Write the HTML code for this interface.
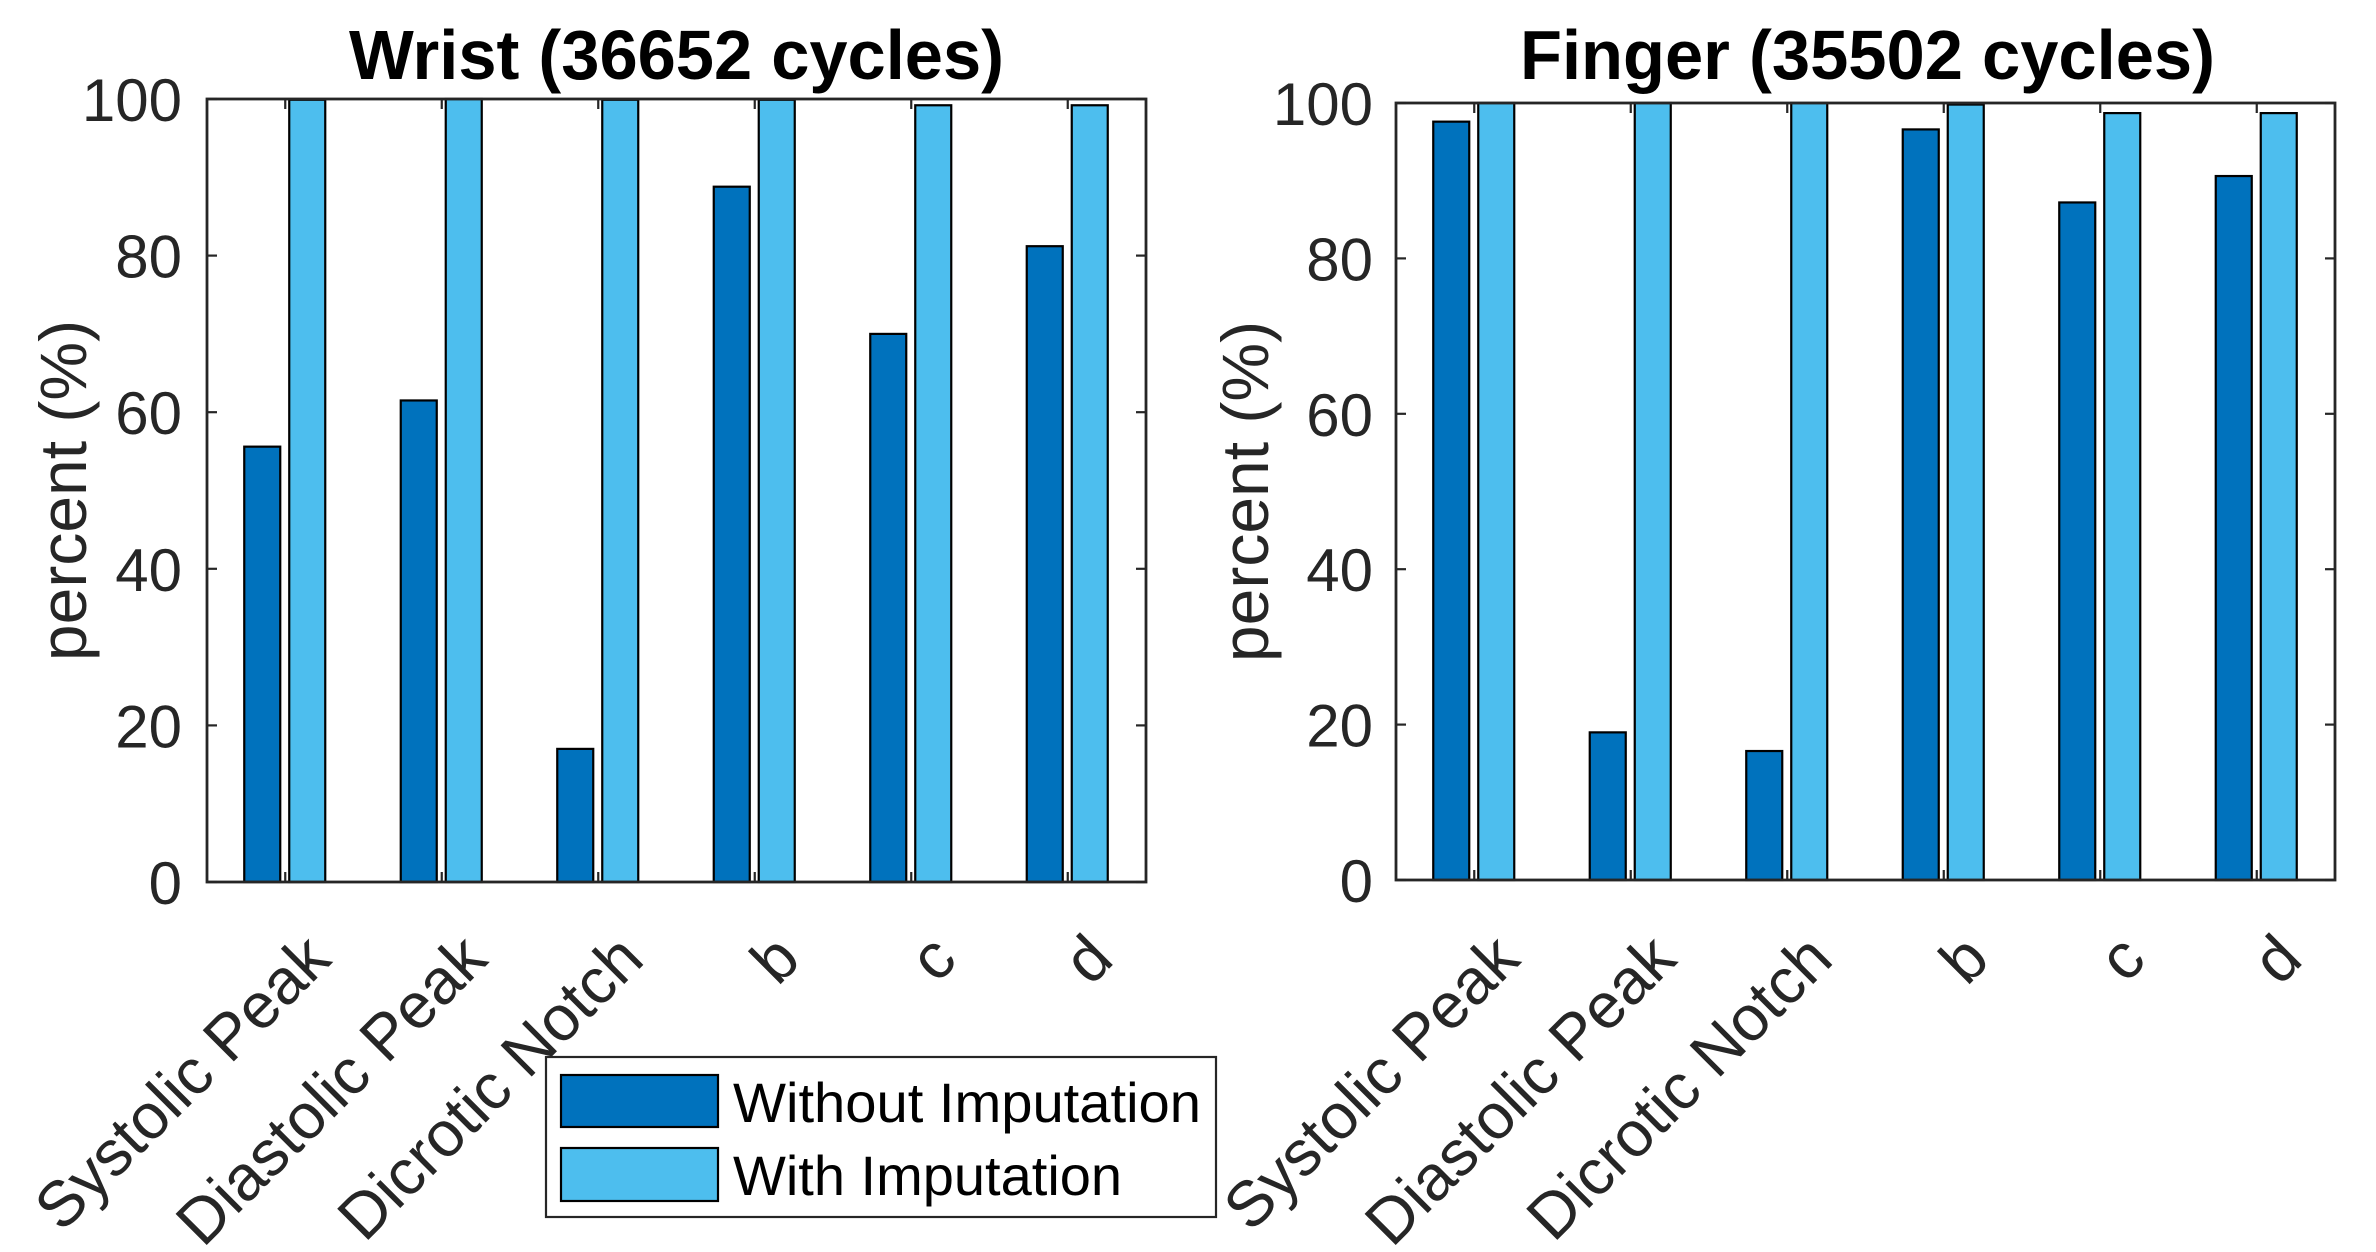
<!DOCTYPE html>
<html><head><meta charset="utf-8"><style>
html,body{margin:0;padding:0;background:#fff;}
svg{display:block;}
text{font-family:"Liberation Sans",Arial,sans-serif;}
</style></head><body>
<svg width="2376" height="1252" viewBox="0 0 2376 1252" xmlns="http://www.w3.org/2000/svg">
<g id="chart"></g>
</svg>
<script>
const NS="http://www.w3.org/2000/svg";
const root=document.getElementById("chart");
function el(t,a,txt){const e=document.createElementNS(NS,t);for(const k in a)e.setAttribute(k,a[k]);if(txt!==undefined)e.textContent=txt;root.appendChild(e);return e;}
const cats=["Systolic Peak","Diastolic Peak","Dicrotic Notch","b","c","d"];
function panel(x0,x1,y0,y1,title,tx,tw,ylx,dark,light,tickRight){
  const w=x1-x0,h=y1-y0,u=w/6;
  const Y=v=>y1-v/100*h;
  for(let i=0;i<6;i++){
    const c=x0+u*(i+0.5);
    el("rect",{x:c-41,y:Y(dark[i]),width:36,height:y1-Y(dark[i]),fill:"#0072BD",stroke:"#000","stroke-width":2.2});
    el("rect",{x:c+4,y:Y(light[i]),width:36,height:y1-Y(light[i]),fill:"#4DBEEE",stroke:"#000","stroke-width":2.2});
    el("line",{x1:c,y1:y1,x2:c,y2:y1-10,stroke:"#262626","stroke-width":2.2});
    el("line",{x1:c,y1:y0,x2:c,y2:y0+10,stroke:"#262626","stroke-width":2.2});
    el("text",{x:c+48,y:962,"font-size":64,fill:"#262626","text-anchor":"end",transform:`rotate(-45 ${c+48} 962)`},cats[i]);
  }
  for(let v=0;v<=100;v+=20){
    const y=Y(v);
    el("line",{x1:x0,y1:y,x2:x0+10,y2:y,stroke:"#262626","stroke-width":2.2});
    el("line",{x1:x1,y1:y,x2:x1-10,y2:y,stroke:"#262626","stroke-width":2.2});
    el("text",{x:tickRight,y:y+22,"font-size":60,fill:"#262626","text-anchor":"end"},String(v));
  }
  el("rect",{x:x0,y:y0,width:w,height:h,fill:"none",stroke:"#262626","stroke-width":2.8});
  el("text",{x:tx,y:79,"font-size":70,"font-weight":"bold",fill:"#000",textLength:tw,lengthAdjust:"spacingAndGlyphs"},title);
  const cy=(y0+y1)/2;
  el("text",{x:ylx,y:cy,"font-size":66,fill:"#262626","text-anchor":"middle",transform:`rotate(-90 ${ylx} ${cy})`},"percent (%)");
}
panel(207,1146,99,882,"Wrist (36652 cycles)",349,655,86,
  [55.6,61.5,17,88.8,70,81.2],[99.9,100,99.9,99.9,99.2,99.2],182);
panel(1396,2335,103,880,"Finger (35502 cycles)",1520,695,1268,
  [97.6,19,16.6,96.6,87.2,90.6],[100,100,100,99.8,98.7,98.7],1373);
el("rect",{x:546,y:1057,width:670,height:160,fill:"#fff",stroke:"#262626","stroke-width":2.2});
el("rect",{x:561,y:1075,width:157,height:52,fill:"#0072BD",stroke:"#000","stroke-width":2.2});
el("rect",{x:561,y:1148,width:157,height:53,fill:"#4DBEEE",stroke:"#000","stroke-width":2.2});
el("text",{x:733,y:1122,"font-size":56,fill:"#000",textLength:468,lengthAdjust:"spacingAndGlyphs"},"Without Imputation");
el("text",{x:733,y:1195,"font-size":56,fill:"#000"},"With Imputation");
</script>
</body></html>
